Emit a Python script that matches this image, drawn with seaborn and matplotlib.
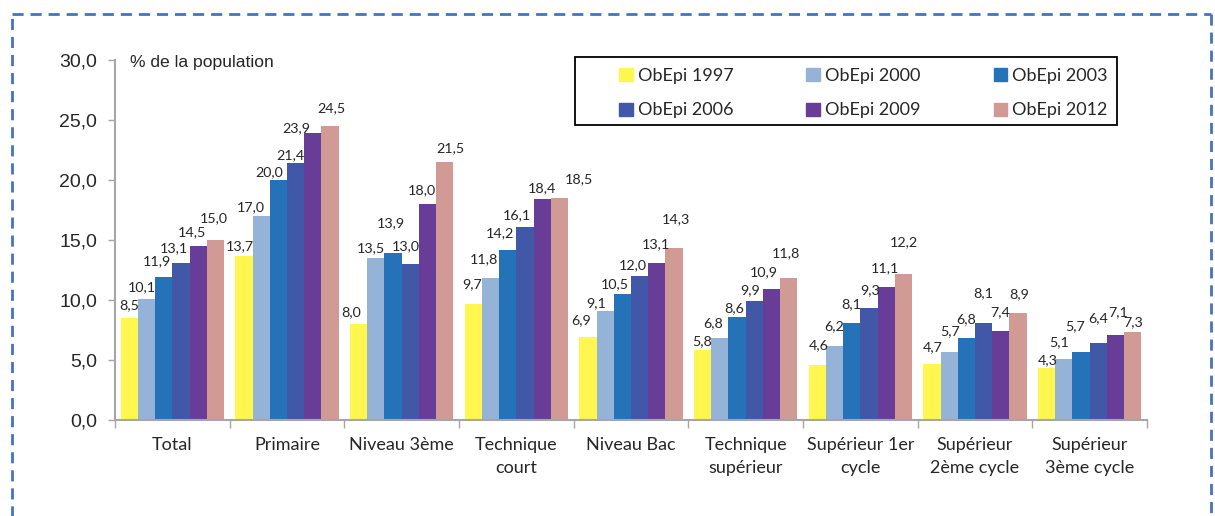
import matplotlib
matplotlib.use("Agg")
import matplotlib.pyplot as plt
from matplotlib.lines import Line2D
from matplotlib.patches import Rectangle
import seaborn as sns
import pandas as pd
import numpy as np

# ---------------- data ----------------
categories = ["Total", "Primaire", "Niveau 3ème", "Technique\ncourt", "Niveau Bac",
              "Technique\nsupérieur", "Supérieur 1er\ncycle", "Supérieur\n2ème cycle",
              "Supérieur\n3ème cycle"]
series = ["ObEpi 1997", "ObEpi 2000", "ObEpi 2003", "ObEpi 2006", "ObEpi 2009", "ObEpi 2012"]
v1997 = [8.5, 13.7, 8.0, 9.7, 6.9, 5.8, 4.6, 4.7, 4.3]
v2000 = [10.1, 17.0, 13.5, 11.8, 9.1, 6.8, 6.2, 5.7, 5.1]
v2003 = [11.9, 20.0, 13.9, 14.2, 10.5, 8.6, 8.1, 6.8, 5.7]
v2006 = [13.1, 21.4, 13.0, 16.1, 12.0, 9.9, 9.3, 8.1, 6.4]
v2009 = [14.5, 23.9, 18.0, 18.4, 13.1, 10.9, 11.1, 7.4, 7.1]
v2012 = [15.0, 24.5, 21.5, 18.5, 14.3, 11.8, 12.2, 8.9, 7.3]
yticks = [0, 5, 10, 15, 20, 25, 30]
ylabel_text = "% de la population"

# label offsets (pixels) relative to bar top centre: rows=categories, cols=series
label_dx = [[0, -5, -7, -7, -6, -2],
            [-4, -10, -9, -5, -16, 1],
            [-8, -5, -2, -4, -6, 6],
            [-1, -7, -8, -8, 0, 20],
            [-7, -9, -8, -7, -1, 2],
            [0, -7, -3, -4, -8, -3],
            [1, 0, 0, 1, -1, 1],
            [1, 1, 0, 0, -1, 1],
            [1, -5, -6, 0, 3, 0]]
label_dy = [[13, 12, 16, 15, 14, 22],
            [9, 9, 8, 8, 5, 18],
            [12, 10, 30, 18, 14, 14],
            [19, 19, 16, 12, 11, 19],
            [17, 8, 10, 11, 19, 29],
            [9, 15, 9, 11, 17, 25],
            [20, 19, 19, 18, 19, 31],
            [16, 20, 19, 30, 19, 19],
            [8, 17, 25, 25, 23, 10]]

colors = ["#FFF650", "#95B3D7", "#2572B8", "#4158A8", "#673D98", "#D19A94"]

values = [v1997, v2000, v2003, v2006, v2009, v2012]
df = pd.DataFrame({
    "cat": [c for s in series for c in categories],
    "serie": [s for s in series for c in categories],
    "val": [v for vals in values for v in vals],
})

sns.set_style("white")
plt.rcParams["font.family"] = ["Lato", "DejaVu Sans"]

W, H = 1215, 516
fig = plt.figure(figsize=(W / 100, H / 100), dpi=100)
ax = fig.add_axes([115 / W, 1 - 420 / H, (1147 - 115) / W, 360 / H])

sns.barplot(data=df, x="cat", y="val", hue="serie", order=categories,
            hue_order=series, palette=colors, saturation=1, width=0.9,
            gap=0, dodge=True, ax=ax, legend=False, errorbar=None,
            linewidth=0)

ax.set_ylim(0, 30)
ax.set_xlim(-0.5, len(categories) - 0.5)
ax.set_xlabel("")
ax.set_ylabel("")

# y ticks
ax.set_yticks(yticks)
ax.set_yticklabels([f"{t:.1f}".replace(".", ",") for t in yticks],
                   fontfamily="Liberation Sans", fontsize=14, color="#262626")
ax.tick_params(axis="y", length=5, width=1, color="#A6A6A6", pad=8, direction="out", left=True)

# x ticks: major at boundaries, labels on minor
ax.set_xticks(np.arange(-0.5, len(categories)), labels=[""] * (len(categories) + 1))
ax.set_xticks(np.arange(len(categories)), labels=categories, minor=True)
ax.tick_params(axis="x", which="major", length=6, width=1, color="#A6A6A6", direction="out", bottom=True)
ax.tick_params(axis="x", which="minor", length=0, pad=12)
for lab in ax.get_xticklabels(minor=True):
    lab.set_fontsize(13)
    lab.set_color("#262626")
    lab.set_linespacing(1.55)
    lab.set_verticalalignment("top")

for side in ["top", "right"]:
    ax.spines[side].set_visible(False)
for side in ["left", "bottom"]:
    ax.spines[side].set_color("#A6A6A6")
    ax.spines[side].set_linewidth(1.5)
ax.grid(False)

# data labels
for j, cont in enumerate(ax.containers):
    for i, bar in enumerate(cont):
        h = bar.get_height()
        xc = bar.get_x() + bar.get_width() / 2
        ax.annotate(f"{h:.1f}".replace(".", ","), (xc, h),
                    xytext=(label_dx[i][j], label_dy[i][j]), textcoords="offset pixels",
                    ha="center", va="center", fontsize=10.3, color="#262626",
                    annotation_clip=False)

# y axis caption
fig.text(130 / W, 1 - 63 / H, ylabel_text, fontfamily="Liberation Sans",
         fontsize=12.6, color="#262626", ha="left", va="center")

# legend (frame drawn separately)
handles = [plt.Rectangle((0, 0), 1, 1, color=c) for c in colors]
order = [0, 3, 1, 4, 2, 5]
leg = fig.legend([handles[k] for k in order], [series[k] for k in order], ncol=3,
                 loc="center left",
                 bbox_to_anchor=(619 / W, 1 - 93 / H, (1108 - 619) / W, 0.0),
                 mode="expand", frameon=False, fontsize=13,
                 handlelength=0.75, handleheight=0.75, handletextpad=0.3,
                 borderpad=0, labelspacing=1.05, borderaxespad=0)
for t in leg.get_texts():
    t.set_color("#262626")
fig.add_artist(Rectangle((575 / W, 1 - 125 / H), (1117 - 575) / W, 68 / H,
                         transform=fig.transFigure, fill=False,
                         edgecolor="#000000", linewidth=1.3))

# dashed border
bc = "#4472C4"
kw = dict(color=bc, linewidth=2, linestyle=(0, (4, 2.5)), transform=fig.transFigure)
fig.add_artist(Line2D([12 / W, 12 / W], [-0.05, 1 - 14 / H], **kw))
fig.add_artist(Line2D([12 / W, 1211 / W], [1 - 14 / H, 1 - 14 / H], **kw))
fig.add_artist(Line2D([1211 / W, 1211 / W], [1 - 14 / H, -0.05], **kw))

fig.savefig("out.png", dpi=100)
